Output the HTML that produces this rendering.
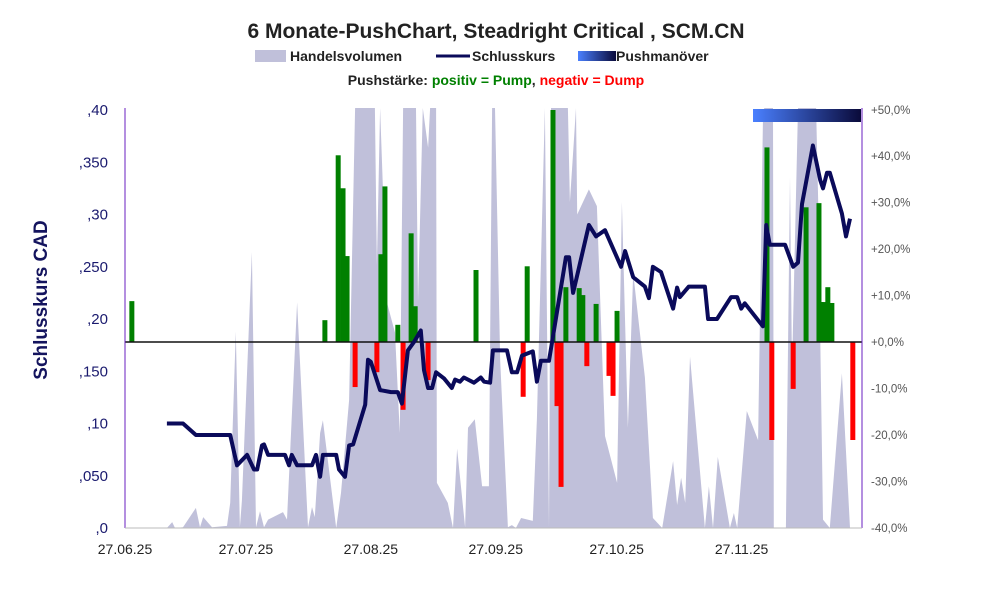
<!DOCTYPE html>
<html><head><meta charset="utf-8"><style>
body{margin:0;background:#fff;}
svg{display:block;font-family:"Liberation Sans",sans-serif;}
</style></head><body>
<svg id="chart" width="991" height="593" viewBox="0 0 991 593" xmlns="http://www.w3.org/2000/svg">
<defs><linearGradient id="pg" x1="0" x2="1" y1="0" y2="0"><stop offset="0" stop-color="#4a80ff"/><stop offset="1" stop-color="#0a0a3a"/></linearGradient></defs>
<text x="496" y="38" text-anchor="middle" font-size="21" font-weight="bold" fill="#222">6 Monate-PushChart, Steadright Critical , SCM.CN</text>
<g font-size="14" font-weight="bold" fill="#222">
<rect x="255" y="50" width="31" height="12" fill="#c0c0da"/>
<text x="290" y="61">Handelsvolumen</text>
<line x1="436" y1="56" x2="470" y2="56" stroke="#0a0a5a" stroke-width="3"/>
<text x="472" y="61">Schlusskurs</text>
<rect x="578" y="51" width="38" height="10" fill="url(#pg)"/>
<text x="616" y="61">Pushmanöver</text>
</g>
<text x="496" y="85" text-anchor="middle" font-size="14" font-weight="bold" fill="#222">Pushstärke:  <tspan fill="#008000">positiv = Pump</tspan>,  <tspan fill="#ff0000">negativ = Dump</tspan></text>
<text transform="translate(47,300) rotate(-90)" text-anchor="middle" font-size="19" font-weight="bold" fill="#14145e">Schlusskurs CAD</text>
<g id="plot"></g>
</svg>
<script>
// price series (days since 27.06.25)
const priceDays=[10.4,14.4,17.6,26.1,27.8,30.3,32.0,32.8,34.0,34.5,35.5,39.7,40.7,41.4,42.7,46.4,47.4,48.4,49.1,52.4,53.1,54.6,55.6,56.6,59.6,60.3,61.0,63.3,66.0,67.7,68.7,70.2,71.7,73.4,74.2,75.2,76.2,77.2,79.2,81.1,81.9,83.1,84.1,86.6,88.3,89.1,90.6,91.3,94.8,96.0,97.3,98.5,101.2,102.2,103.2,105.2,109.4,110.2,111.2,115.1,116.9,119.1,123.1,124.1,126.1,129.0,130.0,131.0,133.0,136.0,137.0,137.7,139.9,143.9,144.7,146.9,150.4,151.9,152.9,153.8,158.3,159.1,160.0,163.8,165.8,167.0,168.0,170.7,172.5,173.2,174.2,174.9,177.9,178.9,179.9];
const prices=[.100,.100,.089,.089,.060,.070,.056,.056,.079,.080,.070,.070,.060,.070,.060,.060,.070,.049,.070,.070,.056,.049,.079,.080,.118,.161,.159,.132,.130,.130,.119,.170,.178,.189,.151,.134,.134,.149,.143,.134,.142,.140,.144,.139,.144,.140,.139,.170,.170,.149,.149,.165,.169,.140,.160,.160,.259,.259,.225,.290,.279,.285,.250,.265,.240,.231,.220,.250,.245,.210,.230,.221,.231,.231,.200,.200,.221,.221,.210,.215,.193,.290,.271,.271,.250,.254,.310,.366,.333,.325,.340,.340,.301,.279,.296];
// push strength (%)
const pushDays=[1.7,49.6,52.9,54.1,55.1,57.1,62.5,63.5,64.5,67.7,69.0,71.0,72.0,75.2,87.1,98.8,99.8,106.2,107.2,108.2,109.4,112.7,113.6,114.6,116.9,120.1,121.1,122.1,159.3,160.5,165.8,169.0,172.2,172.7,173.4,174.4,175.4,180.6];
const pushVals=[8.8,4.7,40.2,33.1,18.5,-9.7,-6.5,18.9,33.5,3.7,-14.6,23.4,7.7,-8.2,15.5,-11.8,16.3,55,-13.8,-31.2,11.8,11.6,10.1,-5.2,8.2,-7.3,-11.6,6.7,41.9,-21.1,-10.1,29.0,29.9,8.6,8.6,11.8,8.4,-21.1];
// volume (% of plot height)
const volDays=[0,10.4,11.7,12.4,14.4,17.6,18.6,19.4,21.6,25.3,26.1,27.5,28.5,29.0,31.5,32.5,33.5,34.5,35.5,39.2,40.2,42.7,45.4,46.4,47.1,48.4,49.1,52.4,53.6,55.6,57.1,62.0,62.5,63.3,65.0,67.0,68.2,69.0,72.2,72.7,73.9,75.2,75.7,77.2,77.4,80.1,81.4,82.4,84.4,85.1,86.8,88.6,90.3,91.1,91.8,93.1,95.0,96.0,97.0,98.3,101.2,102.2,104.2,105.2,105.7,109.9,110.4,111.9,112.2,115.1,117.1,119.1,122.1,123.3,124.8,126.1,129.0,131.0,133.3,136.0,137.0,138.0,139.0,140.2,143.9,144.9,145.9,147.1,150.1,151.1,151.9,154.3,157.1,158.3,158.6,160.8,161.0,164.0,165.0,165.5,167.0,171.5,172.0,173.2,174.9,177.9,179.9];
const volVals=[0,0,1.4,0,0.2,4.8,0.2,2.6,0.2,0.5,6,47,0.2,6.5,66,0.2,4,0.2,2,3.8,2,54,0.2,5,2.6,22.7,25.8,0,8.4,30.6,120,120,63,120,54,46.7,22.7,120,120,54,120,91,120,120,10.8,6,0,19,0.2,24,26,10,10,120,120,40,0.2,0.7,0,2.4,1.7,26,120,0,120,120,78,120,75,81,77,22,10.8,78,24,61,36,2.4,0,16,5.5,12,6,41,0,10,0,17,0,3.6,0,28,21,97,120,120,0,0,84,38,120,120,78,2,0,37,0];
const xTicks=["27.06.25","27.07.25","27.08.25","27.09.25","27.10.25","27.11.25"];
const xTickDays=[0,30,61,92,122,153];
const yTicks=[0,.05,.1,.15,.2,.25,.3,.35,.4];
const yTickLabels=[",0",",050",",10",",150",",20",",250",",30",",350",",40"];
const rTicks=[-40,-30,-20,-10,0,10,20,30,40,50];

const X0=125,X1=862,YT=110,YB=528;
const xs=d=>X0+d*4.03;
const yp=v=>YB-v/0.4*(YB-YT);
const yr=p=>342-p*(YB-YT)/90;
const yv=v=>Math.max(YT-2,YB-v*4.18);
const NS="http://www.w3.org/2000/svg";
const plot=document.getElementById('plot');
function mk(t,a){const e=document.createElementNS(NS,t);for(const k in a)e.setAttribute(k,a[k]);plot.appendChild(e);return e;}

let pts=volDays.map((d,i)=>xs(d).toFixed(1)+','+yv(volVals[i]).toFixed(1));
pts.push(xs(volDays[volDays.length-1]).toFixed(1)+','+YB);pts.unshift(X0+','+YB);
const area=mk('polygon',{points:pts.join(' '),fill:'#c0c0da'});



pushDays.forEach((d,i)=>{const v=pushVals[i];const y0=yr(0),y1=Math.max(YT,yr(v));
const r=mk('rect',{x:xs(d)-2.5,y:Math.min(y0,y1),width:5,height:Math.abs(y1-y0),fill:v>=0?'#008000':'#ff0000'});

});

const z=mk('line',{x1:X0,x2:X1,y1:yr(0),y2:yr(0),stroke:'#111','stroke-width':1.6});



const pl=mk('polyline',{points:priceDays.map((d,i)=>xs(d).toFixed(1)+','+yp(prices[i]).toFixed(1)).join(' '),fill:'none',stroke:'#0a0a5a','stroke-width':4,'stroke-linejoin':'round'});



const pm=mk('rect',{x:753,y:109,width:108,height:13,fill:'url(#pg)'});



const la=mk('line',{x1:X0,x2:X0,y1:YT-2,y2:YB,stroke:'#6a1fc0','stroke-width':1});


const ra=mk('line',{x1:X1,x2:X1,y1:YT-2,y2:YB,stroke:'#6a1fc0','stroke-width':1});


const ba=mk('line',{x1:X0,x2:X1,y1:YB,y2:YB,stroke:'#bbb','stroke-width':1});



yTicks.forEach((v,i)=>{const t=mk('text',{x:108,y:yp(v)+5,'text-anchor':'end','font-size':15,fill:'#1a1a6e'});t.textContent=yTickLabels[i];

});
rTicks.forEach(p=>{const t=mk('text',{x:871,y:yr(p)+4,'font-size':11.5,fill:'#555'});t.textContent=(p>=0?'+':'')+p+',0%';

});
xTicks.forEach((l,i)=>{const t=mk('text',{x:xs(xTickDays[i]),y:554,'text-anchor':'middle','font-size':14,fill:'#222'});t.textContent=l;

});
</script>
</body></html>
